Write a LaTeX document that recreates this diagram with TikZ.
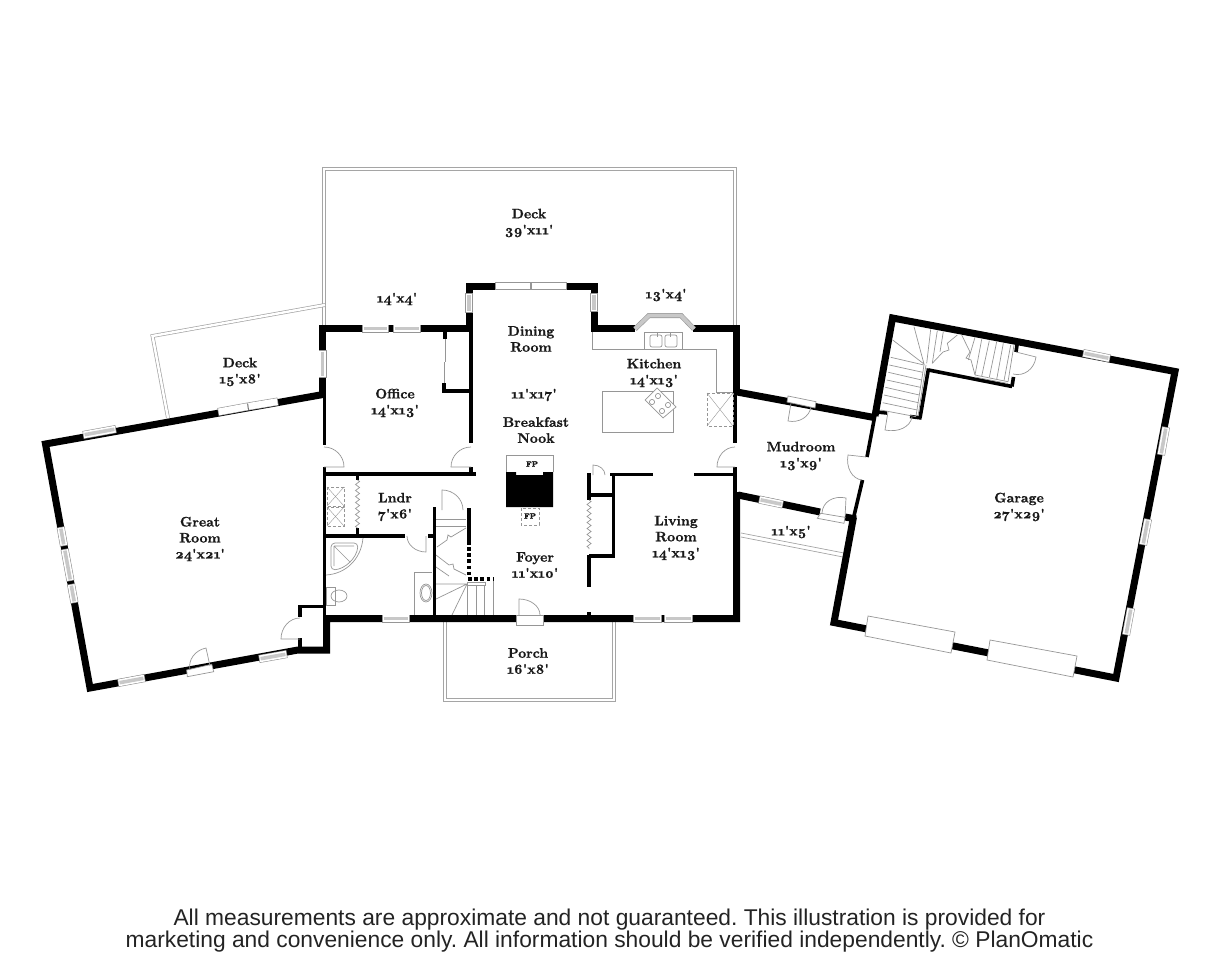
\documentclass[tikz,border=0pt]{standalone}
\usepackage{fontspec}
\usepackage{xcolor}
\usetikzlibrary{calc,decorations.pathmorphing}
\setmainfont{Liberation Sans}
\newfontfamily\planfont[Numbers=OldStyle,FakeBold=1.2]{lmroman10-bold.otf}
\definecolor{Plan-Line}{RGB}{150, 150, 150}
\definecolor{Plan-Deck}{RGB}{165, 165, 165}
\definecolor{Plan-Glass}{RGB}{200, 200, 200}
\definecolor{Plan-Note}{RGB}{35, 35, 35}
\tikzset{
    wall/.style={line width=7pt, line join=miter, black},
    thinwall/.style={line width=3.6pt, line join=miter, black},
    fixture/.style={line width=0.7pt, Plan-Line},
    deckedge/.style={line width=0.7pt, draw=Plan-Deck, double=white, double distance=2.4pt},
    dashbox/.style={line width=0.6pt, Plan-Line, densely dashed},
    doorline/.style={line width=0.7pt, Plan-Line},
    doorsill/.style={line width=0.7pt, draw=Plan-Line, fill=white},
    bifold/.style={line width=0.7pt, Plan-Line, decorate, decoration={zigzag, segment length=6pt, amplitude=2pt}},
    roomlabel/.style={font=\planfont\fontsize{13.8}{16}\selectfont, align=center, inner sep=0pt, text=black!90},
    fplabel/.style={font=\planfont\fontsize{8}{9}\selectfont, inner sep=0pt, text=black!90},
    footnote/.style={font=\frenchspacing\fontsize{22.8}{23}\selectfont, inner sep=0pt, text=Plan-Note}
}
\newcommand{\wingray}[2]{
    \draw[line width=8pt, Plan-Line] #1 -- #2;
    \draw[line width=6.8pt, white, shorten <=0.7pt, shorten >=0.7pt] #1 -- #2;
    \draw[line width=3.6pt, Plan-Glass, shorten <=1.6pt, shorten >=1.6pt] #1 -- #2;
}
\newcommand{\winplain}[2]{
    \draw[line width=8pt, Plan-Line] #1 -- #2;
    \draw[line width=6.8pt, white, shorten <=0.7pt, shorten >=0.7pt] #1 -- #2;
}
\newcommand{\doorswing}[3]{
    \draw[doorline] #1 -- #2 .. controls ($#2+0.5523*#3-0.5523*#1$) and ($#3+0.5523*#2-0.5523*#1$) .. #3;
}
\begin{document}
\begin{tikzpicture}[x=1pt, y=-1pt]

    \useasboundingbox (0,0) rectangle (1218,960);

    % decks and porch
    \draw[deckedge] (324,326) -- (324,169) -- (735,169) -- (735,326);
    \draw[deckedge] (168,418) -- (152.5,336) -- (325,305);
    \draw[deckedge] (445,622) -- (445,700) -- (614,700) -- (614,622);
    \draw[line width=0.7pt, Plan-Deck] (741,533) -- (844,553);
    \draw[line width=0.7pt, Plan-Deck] (741,537) -- (843,557);

    % outer walls
    \draw[wall] (322.5,396) -- (322.5,328.5) -- (469,328.5) -- (469,286) -- (594,286) -- (594,328.5) -- (635,328.5);
    \draw[wall] (693,328.5) -- (736.5,328.5) -- (736.5,391);
    \draw[wall] (323,394.5) -- (45.5,444) -- (90,688) -- (298,650) -- (326.5,650) -- (326.5,618.5) -- (736.5,618.5) -- (736.5,492);
    \draw[wall] (737,392) -- (874,417.5);
    \draw[wall] (738,495) -- (820,512);
    \draw[wall] (845,517) -- (856,519);
    \draw[wall] (875,416) -- (892.5,318) -- (1175,371.5) -- (1116,678) -- (834,622.5) -- (853.5,517);

    % inner walls
    \draw[thinwall] (324.5,394) -- (324.5,445);
    \draw[thinwall] (324.5,467) -- (324.5,618);
    \draw[thinwall] (735,390) -- (735,443);
    \draw[thinwall] (735,467) -- (735,493);
    \draw[thinwall] (471,330) -- (471,443);
    \draw[thinwall] (471,467) -- (471,474);
    \draw[thinwall] (323,474) -- (476,474);
    \draw[thinwall] (445,331) -- (445,339);
    \draw[thinwall] (444,383) -- (444,391) -- (470,391);
    \draw[thinwall] (357.5,474) -- (357.5,480);
    \draw[thinwall] (357.5,528) -- (357.5,536);
    \draw[thinwall] (324,536) -- (405,536);
    \draw[thinwall] (428,536) -- (433,536);
    \draw[thinwall] (434.5,507) -- (434.5,618);
    \draw[thinwall] (469,508) -- (469,545);
    \draw[thinwall] (589,473) -- (589,500);
    \draw[thinwall] (589,495) -- (613.5,495);
    \draw[thinwall] (610,474.5) -- (653,474.5);
    \draw[thinwall] (694,474.5) -- (735,474.5);
    \draw[thinwall] (613.5,473) -- (613.5,557);
    \draw[thinwall] (589,556) -- (615,556);
    \draw[thinwall] (589,555) -- (589,587);
    \draw[thinwall] (589,612) -- (589,617);
    \draw[thinwall] (300,605) -- (300,617);
    \draw[thinwall] (300,638) -- (300,650);
    \draw[thinwall] (298.5,606.5) -- (325,606.5);
    \draw[thinwall] (875,415) -- (867,457);
    \draw[thinwall] (862.5,480) -- (853.5,518);
    \draw[thinwall] (928.5,370) -- (1012,386.5);
    \draw[thinwall] (1017,345) -- (1016,352);
    \draw[thinwall] (1013.5,377) -- (1012,386.5);
    \draw[thinwall] (928.5,368.5) -- (920,418);
    \draw[thinwall] (910,416.5) -- (921.5,418);
    \draw[thinwall] (877,412) -- (887,413);
    \draw[thinwall, dash pattern=on 3.6pt off 2.6pt] (469,547) -- (469,575);
    \draw[thinwall, dash pattern=on 3.6pt off 2.6pt] (468,579) -- (494,579);

    % windows
    \wingray{(362,328.5)}{(389,328.5)}
    \wingray{(393,328.5)}{(421,328.5)}
    \wingray{(322.5,350)}{(322.5,378)}
    \wingray{(469,293)}{(469,313)}
    \wingray{(594,293)}{(594,312)}
    \winplain{(495,286)}{(531,286)}
    \winplain{(531,286)}{(567,286)}
    \wingray{(83,435)}{(116,429)}
    \winplain{(218,412)}{(248,406.5)}
    \winplain{(248,406.5)}{(278,401.5)}
    \wingray{(60.6,527)}{(64,546)}
    \wingray{(64.6,549)}{(70.5,581)}
    \wingray{(71,584)}{(74.5,603)}
    \wingray{(118,683)}{(145,678)}
    \wingray{(259,659)}{(287,654)}
    \wingray{(382,618.5)}{(410,618.5)}
    \wingray{(633,618.5)}{(662,618.5)}
    \wingray{(664,618.5)}{(693,618.5)}
    \wingray{(759,499.5)}{(783,504.5)}
    \wingray{(1083,353)}{(1110,358.5)}
    \wingray{(1166,427)}{(1161,455)}
    \wingray{(1148,519)}{(1143,545)}
    \wingray{(1131,608)}{(1126,635)}

    % garage doors
    \draw[doorsill] (868,616) -- (955,632) -- (951,653) -- (865,636) -- cycle;
    \draw[doorsill] (990,640) -- (1077,656) -- (1073,677) -- (987,660) -- cycle;

    % doors
    \draw[doorsill] (186.7,670) -- (211.7,664.3) -- (213.7,671.7) -- (187.3,676.7) -- cycle;
    \draw[doorsill] (788,396) -- (816,401.7) -- (815,408) -- (787,402) -- cycle;
    \draw[doorsill] (820.7,513.3) -- (845,517.3) -- (844,523.3) -- (817.3,518.3) -- cycle;
    \draw[doorsill] (516,615) rectangle (543,625);
    \doorswing{(324,467)}{(344,467)}{(324,447)}
    \doorswing{(471,467)}{(451,467)}{(471,447)}
    \doorswing{(735,467)}{(717,467)}{(735,447)}
    \doorswing{(210,666)}{(206,648)}{(190,670)}
    \doorswing{(300,639)}{(281,639)}{(300,618)}
    \doorswing{(519,615)}{(519,599)}{(540,615)}
    \doorswing{(442,510)}{(442,490)}{(463,510)}
    \doorswing{(426,536)}{(426,552)}{(407,536)}
    \doorswing{(593,475)}{(593,465)}{(605,475)}
    \doorswing{(791,403)}{(788,421)}{(811,407)}
    \doorswing{(845,518)}{(846,498)}{(822,513)}
    \doorswing{(866,457)}{(848,455)}{(862,480)}
    \doorswing{(888,412)}{(885,430)}{(912,417)}
    \doorswing{(1016,352)}{(1036,357)}{(1013,374)}

    % kitchen
    \draw[line width=5pt, Plan-Line, line join=miter] (635,329) -- (649,315.5) -- (681,315.5) -- (694,329);
    \draw[line width=3.8pt, Plan-Glass, line join=miter] (635,329) -- (649,315.5) -- (681,315.5) -- (694,329);
    \draw[fixture] (592,332) -- (592,349) -- (716,349) -- (716,392) -- (733,392);
    \draw[fixture] (644,332) rectangle (682,349);
    \draw[fixture, rounded corners=2pt] (650,335) rectangle (662,347);
    \draw[fixture, rounded corners=2pt] (665,335) rectangle (677,347);
    \draw[fixture] (657,333) -- (657,337) (670,333) -- (670,337);
    \draw[fixture] (602,391) rectangle (673,432);
    \draw[fixture, fill=white] (657,388) -- (676,407) -- (663,418) -- (645,400) -- cycle;
    \draw[fixture] (658,396) circle (2.6pt);
    \draw[fixture] (668,405) circle (2.6pt);
    \draw[fixture] (662,411) circle (2.6pt);
    \draw[fixture] (652,402) circle (2.6pt);
    \draw[dashbox] (707,393) rectangle (733,426);
    \draw[line width=0.4pt, Plan-Line] (707,393) -- (733,426) (733,393) -- (707,426);

    % closets and laundry
    \draw[fixture] (445.5,339) -- (445.5,362) (444,362) -- (444,383);
    \draw[bifold] (357.5,480) -- (357.5,528);
    \draw[bifold] (589,500) -- (589,549);
    \draw[dashbox] (327,487) rectangle (344,506);
    \draw[line width=0.4pt, Plan-Line] (327,487) -- (344,506) (344,487) -- (327,506);
    \draw[dashbox] (327,507) rectangle (344,526);
    \draw[line width=0.4pt, Plan-Line] (327,507) -- (344,526) (344,507) -- (327,526);

    % bath
    \draw[fixture] (363,538) .. controls (361,560) and (345,574) .. (326,575);
    \draw[fixture, rounded corners=4pt] (331,543) -- (358,543) .. controls (357,558) and (345,569) .. (331,570) -- cycle;
    \draw[fixture] (334,546) -- (350,562) (334,546) -- (354,546) (334,546) -- (334,566);
    \draw[fixture] (326,587) rectangle (335,605);
    \draw[fixture] (339,596) ellipse (8pt and 6pt);
    \draw[fixture] (414,615) -- (414,572) -- (432,572);
    \draw[fixture] (426,593) ellipse (6pt and 9pt);
    \draw[fixture] (426,593) ellipse (4.5pt and 7.5pt);

    % stairs by the foyer
    \draw[fixture] (436,519) -- (466,519) (436,526) -- (466,526);
    \draw[fixture] (466,528) -- (451,537) -- (448,535) -- (447,540) -- (437,547);
    \draw[fixture] (436,555) -- (449,565) -- (453,564) -- (454,569) -- (466,575);
    \draw[fixture] (436,567) -- (449,576);
    \draw[fixture] (436,584) -- (467,584) (436,599) -- (467,584) (452,615) -- (467,584);
    \draw[fixture] (467,582) rectangle (485,585);
    \draw[fixture] (467,585) -- (467,615) (476,585) -- (476,615) (484.5,585) -- (484.5,615) (493.5,581) -- (493.5,615);

    % stairs in the garage
    \draw[fixture] (890.7,357.3) -- (924,365) (889.3,365) -- (922.7,372.3) (888.3,372.3) -- (921.7,380) (886.7,380) -- (920.3,387.3);
    \draw[fixture] (885.3,387.3) -- (919.3,395) (884,395) -- (918.3,402.7) (882.7,402.7) -- (917.3,410) (880.7,410) -- (916,416.7);
    \draw[fixture] (924,365) -- (916,416) (926,365) -- (918,416);
    \draw[fixture] (892.7,340) -- (924,364) -- (914,326.7);
    \draw[fixture] (930.7,329.3) -- (926.7,363.3) (937.3,330.7) -- (932.3,363.3) (943.3,331.7) -- (940,351.7);
    \draw[fixture] (957.3,335) -- (947.3,343.3) -- (949,350) -- (943,352) -- (932.3,363.3);
    \draw[fixture] (961.7,335) -- (970,352) -- (966,358) -- (971,360) -- (975,375);
    \draw[fixture] (975,337.3) -- (968.3,360) (981.7,339.3) -- (975,375) (989.3,340.7) -- (981.7,376);
    \draw[fixture] (996.7,341.7) -- (989.3,377.3) (1003.3,343.3) -- (996.7,379.3) (1010.7,345) -- (1004,380.7);
    \draw[fixture] (975,375) -- (1008,381.7) (974.5,377) -- (1008,383.5);
    \draw[fixture] (1014,345) -- (1008,381.7);

    % fireplace
    \draw[fixture] (506,472) -- (506,455) -- (553,455) -- (553,472);
    \fill[black] (506,472) -- (516,472) -- (516,475) -- (543,475) -- (543,472) -- (553,472) -- (553,507) -- (506,507) -- cycle;
    \draw[dashbox] (521,508) rectangle (539,525);

    \node[fplabel] (fpupper) at (532,464) {FP};
    \node[fplabel] (fplower) at (530,516) {FP};

    \node[roomlabel] (deckrear) at (529,223) {Deck\\39'x11'};
    \node[roomlabel] (deckoffice) at (397,299) {14'x4'};
    \node[roomlabel] (deckkitchen) at (666,295) {13'x4'};
    \node[roomlabel] (deckgreat) at (240,372) {Deck\\15'x8'};
    \node[roomlabel] (dining) at (531,339) {Dining\\Room};
    \node[roomlabel] (diningsize) at (534,395) {11'x17'};
    \node[roomlabel] (nook) at (536,430) {Breakfast\\Nook};
    \node[roomlabel] (kitchen) at (654,373) {Kitchen\\14'x13'};
    \node[roomlabel] (office) at (395,403) {Office\\14'x13'};
    \node[roomlabel] (great) at (200,539) {Great\\Room\\24'x21'};
    \node[roomlabel] (lndr) at (395,507) {Lndr\\7'x6'};
    \node[roomlabel] (foyer) at (535,565) {Foyer\\11'x10'};
    \node[roomlabel] (living) at (676,538) {Living\\Room\\14'x13'};
    \node[roomlabel] (mudroom) at (801,456) {Mudroom\\13'x9'};
    \node[roomlabel] (deckmud) at (791,532) {11'x5'};
    \node[roomlabel] (garage) at (1019,507) {Garage\\27'x29'};
    \node[roomlabel] (porch) at (528,661) {Porch\\16'x8'};

    \node[footnote] (noteone) at (609.5,919.5) {All measurements are approximate and not guaranteed. This illustration is provided for};
    \node[footnote] (notetwo) at (609.5,941.5) {marketing and convenience only. All information should be verified independently. © PlanOmatic};

\end{tikzpicture}
\end{document}
